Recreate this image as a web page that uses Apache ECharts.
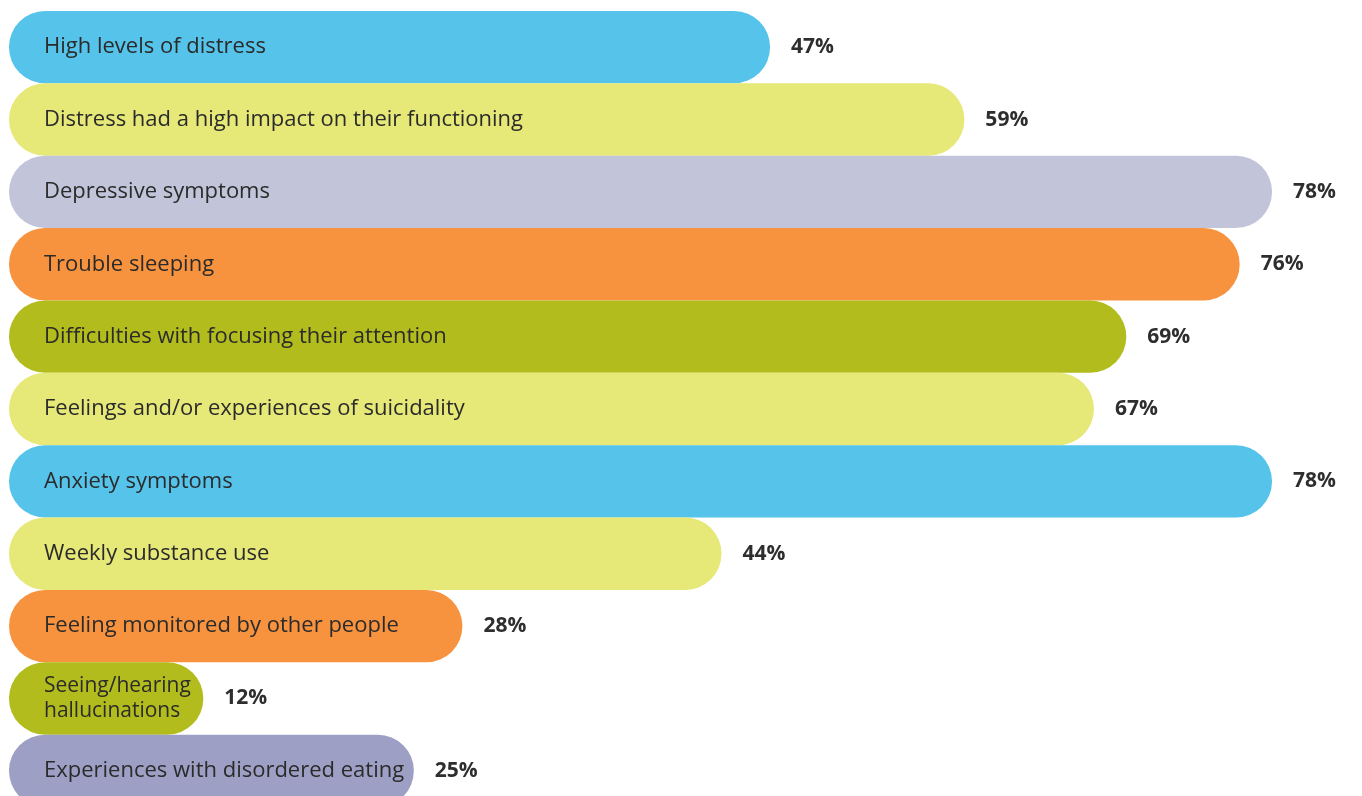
<!DOCTYPE html>
<html>
<head>
<meta charset="utf-8">
<script src="https://cdn.jsdelivr.net/npm/echarts@6/dist/echarts.min.js"></script>
<style>
  html, body { margin: 0; padding: 0; background: #fff; }
  #chart { width: 1362px; height: 796px; }
</style>
</head>
<body>
<div id="chart"></div>
<script>
const categories = [
  'High levels of distress',
  'Distress had a high impact on their functioning',
  'Depressive symptoms',
  'Trouble sleeping',
  'Difficulties with focusing their attention',
  'Feelings and/or experiences of suicidality',
  'Anxiety symptoms',
  'Weekly substance use',
  'Feeling monitored by other people',
  'Seeing/hearing\nhallucinations',
  'Experiences with disordered eating'
]
const values = [47, 59, 78, 76, 69, 67, 78, 44, 28, 12, 25]
const barColors = [
  '#55c3ea', '#e6e878', '#c2c4da', '#f7933f', '#b2bc1c', '#e6e878',
  '#55c3ea', '#e6e878', '#f7933f', '#b2bc1c', '#9d9fc4'
]

const chart = echarts.init(document.getElementById('chart'))

const option = {
  animation: false,
  grid: { left: 9, right: 9, top: 11, height: 796, outerBoundsMode: 'none', containLabel: false },
  xAxis: {
    type: 'value',
    min: 0,
    max: 83,
    show: false
  },
  yAxis: {
    type: 'category',
    data: categories,
    inverse: true,
    show: false
  },
  series: [
    {
      type: 'bar',
      barCategoryGap: 0,
      data: values.map((v, i) => ({
        value: v,
        itemStyle: { color: barColors[i], borderRadius: 36 }
      })),
      label: {
        show: true,
        position: 'right',
        distance: 21,
        formatter: p => p.value + '%',
        fontFamily: 'Open Sans',
        fontWeight: 'bold',
        fontSize: 21,
        color: '#2e2e2e'
      }
    },
    {
      // transparent overlay that carries the category text inside each bar
      type: 'bar',
      barGap: '-100%',
      barCategoryGap: 0,
      silent: true,
      data: values.map((v, i) => ({
        value: v,
        // two-line label sits in a short bar, keep it a touch smaller
        label: categories[i].includes('\n') ? { fontSize: 21, lineHeight: 25 } : {}
      })),
      itemStyle: { color: 'transparent' },
      label: {
        show: true,
        position: 'insideLeft',
        distance: 35,
        formatter: p => categories[p.dataIndex],
        fontFamily: 'Open Sans',
        fontSize: 22,
        lineHeight: 26,
        color: '#2b2b2b'
      }
    }
  ]
}

chart.setOption(option)
</script>
</body>
</html>
